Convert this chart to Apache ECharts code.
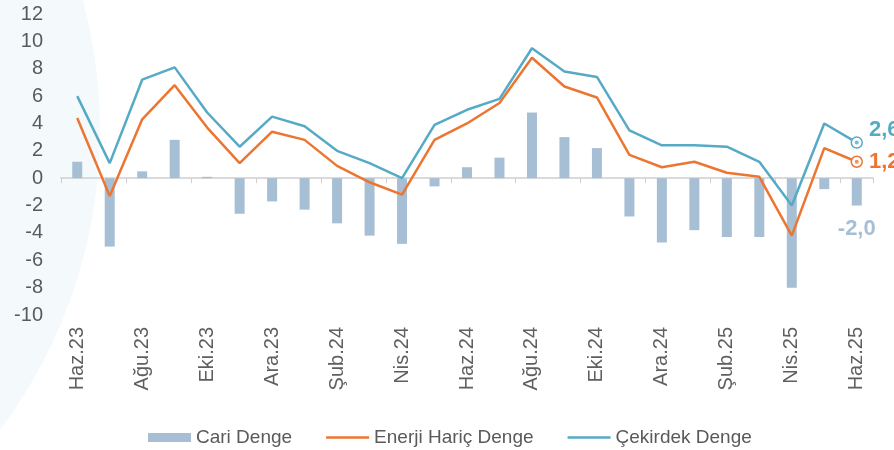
<!DOCTYPE html>
<html>
<head>
<meta charset="utf-8">
<script src="https://cdn.jsdelivr.net/npm/echarts@6/dist/echarts.min.js"></script>
<style>
html,body{margin:0;padding:0;background:#fff;}
#chart{width:894px;height:450px;}
</style>
</head>
<body>
<div id="chart"></div>
<script>
var months = ["Haz.23","Tem.23","Ağu.23","Eyl.23","Eki.23","Kas.23","Ara.23","Oca.24","Şub.24","Mar.24","Nis.24","May.24",
	"Haz.24","Tem.24","Ağu.24","Eyl.24","Eki.24","Kas.24","Ara.24","Oca.25","Şub.25","Mar.25","Nis.25","May.25","Haz.25"];
var cariDenge = [1.2,-5.0,0.5,2.8,0.1,-2.6,-1.7,-2.3,-3.3,-4.2,-4.8,-0.6,0.8,1.5,4.8,3.0,2.2,-2.8,-4.7,-3.8,-4.3,-4.3,-8.0,-0.8,-2.0];
var enerjiHaric = [4.4,-1.3,4.3,6.8,3.7,1.1,3.4,2.8,0.9,-0.3,-1.2,2.8,4.0,5.5,8.8,6.7,5.9,1.7,0.8,1.2,0.4,0.1,-4.2,2.2,1.2];
var cekirdek = [6.0,1.1,7.2,8.1,4.8,2.3,4.5,3.8,2.0,1.1,0.0,3.9,5.0,5.8,9.5,7.8,7.4,3.5,2.4,2.4,2.3,1.2,-2.0,4.0,2.6];

var blue = '#56aac5', orange = '#ec7631', barColor = '#a7bfd4';
var last = months.length - 1;
var fontFam = '"Liberation Sans", Arial, sans-serif';
var lineIcon = 'path://M0,0 L43,0 L43,2.5 L0,2.5 Z';

function fmt(v){ return v.toFixed(1).replace('.', ','); }

// son noktaya etiket + halka isaret
function lineData(arr, color, offset){
	return arr.map(function(v, i){
		if(i !== last) return v;
		return {
			value: v,
			symbol: 'circle',
			symbolSize: 11,
			itemStyle: {color: '#fff', borderColor: color, borderWidth: 1.5},
			label: {
				show: true, position: 'right', distance: 6, offset: offset,
				formatter: function(p){ return fmt(p.value); },
				color: color, fontSize: 22, fontWeight: 'bold', fontFamily: fontFam
			}
		};
	});
}

var barData = cariDenge.map(function(v, i){
	if(i !== last) return v;
	return {
		value: v,
		label: {
			show: true, position: 'bottom', distance: 12,
			formatter: function(p){ return fmt(p.value); },
			color: barColor, fontSize: 22, fontWeight: 'bold', fontFamily: fontFam
		}
	};
});

var chart = echarts.init(document.getElementById('chart'));
var option = {
	animation: false,
	graphic: [{
		type: 'circle', silent: true, z: -10,
		shape: {cx: -400, cy: 130, r: 500},
		style: {fill: '#f4f9fb'}
	}],
	legend: {
		data: [
			{name: 'Cari Denge', icon: 'rect'},
			{name: 'Enerji Hariç Denge', icon: lineIcon, itemStyle: {color: orange}},
			{name: 'Çekirdek Denge', icon: lineIcon, itemStyle: {color: blue}}
		],
		left: 143, top: 423,
		itemWidth: 43, itemHeight: 9, itemGap: 34,
		textStyle: {color: '#5a5a5a', fontSize: 19, fontFamily: fontFam}
	},
	grid: {left: 61, right: 21, top: 14, bottom: 135},
	xAxis: [{
		type: 'category', data: months, position: 'bottom',
		axisLine: {show: false, onZero: false},
		axisTick: {show: false},
		axisLabel: {rotate: 90, interval: 1, margin: 12, color: '#5f5f5f', fontSize: 20, fontFamily: fontFam}
	}, {
		type: 'category', data: months, position: 'bottom',
		axisLine: {show: true, onZero: true, lineStyle: {color: '#dadada', width: 2}},
		axisTick: {show: true, interval: 1, length: 5, lineStyle: {color: '#cfcfcf', width: 1}},
		axisLabel: {show: false}
	}],
	yAxis: {
		type: 'value', min: -10, max: 12, interval: 2,
		splitLine: {show: false}, axisLine: {show: false}, axisTick: {show: false},
		axisLabel: {color: '#5a5a5a', fontSize: 20, margin: 18, fontFamily: fontFam}
	},
	series: [{
		name: 'Cari Denge', type: 'bar', barWidth: 10,
		itemStyle: {color: barColor},
		data: barData
	}, {
		name: 'Enerji Hariç Denge', type: 'line', symbol: 'none', showSymbol: true,
		lineStyle: {color: orange, width: 2.5}, itemStyle: {color: orange},
		data: lineData(enerjiHaric, orange, [0, 0]), z: 3
	}, {
		name: 'Çekirdek Denge', type: 'line', symbol: 'none', showSymbol: true,
		lineStyle: {color: blue, width: 2.5}, itemStyle: {color: blue},
		data: lineData(cekirdek, blue, [0, -13]), z: 4
	}, {
		type: 'scatter', symbolSize: 4, z: 5, silent: true,
		data: [
			{value: [last, enerjiHaric[last]], itemStyle: {color: orange}},
			{value: [last, cekirdek[last]], itemStyle: {color: blue}}
		]
	}]
};
chart.setOption(option);
</script>
</body>
</html>
